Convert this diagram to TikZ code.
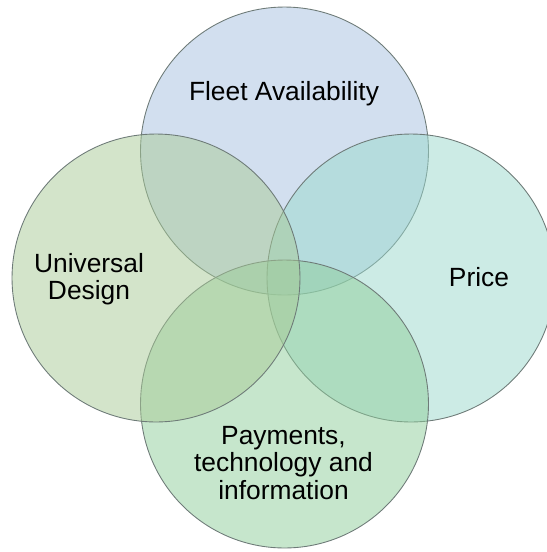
\documentclass[tikz,border=0pt]{standalone}
\usepackage{fontspec}
\setmainfont{Liberation Sans}
\usepackage{xcolor}
\usepackage{tikz}
\usetikzlibrary{shapes.geometric, positioning}
\definecolor{vennblue}{HTML}{A5C0E0}
\definecolor{vennteal}{HTML}{9AD8CC}
\definecolor{venngreen}{HTML}{8ECD9A}
\definecolor{vennlime}{HTML}{A8CA96}
\definecolor{vennedge}{HTML}{6E7B78}

\tikzset{
    venn/.style={circle, minimum size=5.76cm, inner sep=0pt, draw=vennedge, line width=0.5pt, fill opacity=0.5},
    vennlabel/.style={align=center, text=black, font=\fontsize{15}{15.4}\selectfont}
}

\begin{document}
\begin{tikzpicture}[x=0.02cm, y=-0.02cm]
    \useasboundingbox (0,0) rectangle (547,552);
    % The four circles, drawn clockwise from the top
    \node[venn, fill=vennblue] (fleet) at (284.5,151) {};
    \node[venn, fill=vennteal] (price) at (411,278) {};
    \node[venn, fill=venngreen] (payments) at (284.5,404) {};
    \node[venn, fill=vennlime] (universal) at (156,278) {};

    % Labels
    \node[vennlabel] (fleettext) at (284,94) {Fleet Availability};
    \node[vennlabel] (pricetext) at (479,277.5) {Price};
    \node[vennlabel] (paymentstext) at (283.5,463) {Payments,\\technology and\\information};
    \node[vennlabel] (universaltext) at (89,279) {Universal\\Design};
\end{tikzpicture}
\end{document}
